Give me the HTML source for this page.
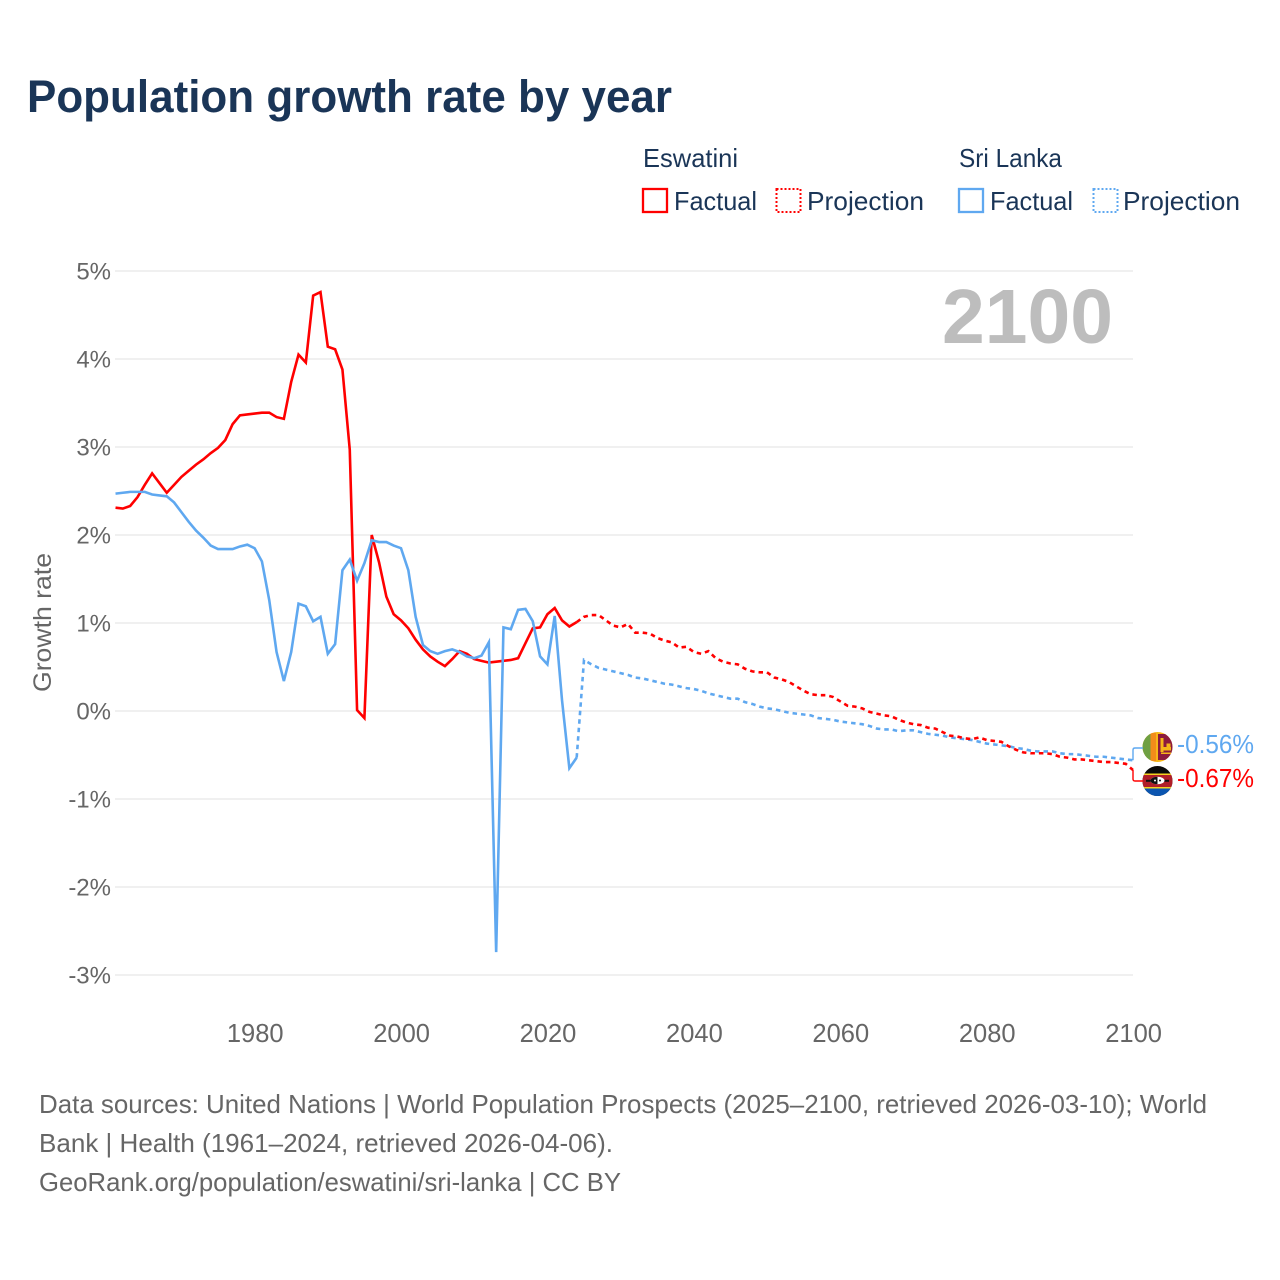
<!DOCTYPE html>
<html lang="en">
<head>
<meta charset="utf-8">
<title>Population growth rate by year</title>
<style>
html,body{margin:0;padding:0;background:#fff;}
svg{display:block;}
text{font-family:"Liberation Sans",sans-serif;}
</style>
</head>
<body>
<svg id="chart" xmlns="http://www.w3.org/2000/svg" width="1280" height="1280" viewBox="0 0 1280 1280">
  <rect x="0" y="0" width="1280" height="1280" fill="#fff"/>
  <text x="27" y="112" font-size="45" font-weight="700" fill="#1a3557" textLength="645" lengthAdjust="spacingAndGlyphs">Population growth rate by year</text>

  <g fill="#1a3557" font-size="26">
    <text x="643" y="167" textLength="95" lengthAdjust="spacingAndGlyphs">Eswatini</text>
    <text x="959" y="167" textLength="103" lengthAdjust="spacingAndGlyphs">Sri Lanka</text>
    <g>
      <rect x="643" y="189" width="24" height="23" fill="none" stroke="#ff0000" stroke-width="2.3"/>
      <text x="674" y="210" textLength="83" lengthAdjust="spacingAndGlyphs">Factual</text>
    </g>
    <g>
      <rect x="776.5" y="189" width="24" height="23" fill="none" stroke="#ff0000" stroke-width="2" stroke-dasharray="2 2"/>
      <text x="807" y="210" textLength="117" lengthAdjust="spacingAndGlyphs">Projection</text>
    </g>
    <g>
      <rect x="959" y="189" width="24" height="23" fill="none" stroke="#5fa8f0" stroke-width="2.3"/>
      <text x="990" y="210" textLength="83" lengthAdjust="spacingAndGlyphs">Factual</text>
    </g>
    <g>
      <rect x="1093.5" y="189" width="24" height="23" fill="none" stroke="#5fa8f0" stroke-width="2" stroke-dasharray="2 2"/>
      <text x="1123" y="210" textLength="117" lengthAdjust="spacingAndGlyphs">Projection</text>
    </g>
  </g>

  <g id="grid"></g>
  <g id="yticks"></g>
  <g id="xticks"></g>
  <text transform="translate(51,622.5) rotate(-90)" text-anchor="middle" font-size="25" fill="#666" textLength="139" lengthAdjust="spacingAndGlyphs">Growth rate</text>
  <text id="yearLabel" x="1113" y="343" text-anchor="end" font-size="77" font-weight="700" fill="#bdbdbd" textLength="171" lengthAdjust="spacingAndGlyphs"></text>

  <g id="series"></g>

  <defs>
    <clipPath id="clipLk"><circle cx="1157.5" cy="747" r="15"/></clipPath>
    <clipPath id="clipSz"><circle cx="1157.5" cy="781" r="15"/></clipPath>
  </defs>
  <g clip-path="url(#clipLk)">
    <rect x="1142" y="731" width="31" height="32" fill="#f7b718"/>
    <rect x="1142" y="733" width="8.5" height="28" fill="#6fa043"/>
    <rect x="1150.5" y="733" width="5.5" height="28" fill="#f28c1a"/>
    <rect x="1158" y="734" width="15" height="26" fill="#8d1b3d"/>
    <rect x="1160.5" y="738" width="3" height="14" fill="#f7b718"/>
    <rect x="1161" y="747" width="10" height="3.5" fill="#f7b718"/>
    <rect x="1166.5" y="743.5" width="4" height="5" fill="#f7b718"/>
    <rect x="1161" y="752.5" width="10" height="1.5" fill="#f7b718"/>
  </g>
  <g clip-path="url(#clipSz)">
    <rect x="1142" y="765" width="31" height="32" fill="#0a0a0a"/>
    <rect x="1142" y="773.5" width="31" height="1.5" fill="#f5d020"/>
    <rect x="1142" y="775" width="31" height="12" fill="#b01e28"/>
    <rect x="1142" y="787" width="31" height="1.5" fill="#f5d020"/>
    <rect x="1142" y="788.5" width="31" height="9" fill="#0b55b0"/>
    <rect x="1146" y="779.8" width="23" height="2" fill="#111"/>
    <ellipse cx="1157.5" cy="780.5" rx="7" ry="3.8" fill="#fff"/>
    <path d="M1157.5 776.7 A7 3.8 0 0 0 1157.5 784.3 Z" fill="#111"/>
    <circle cx="1155" cy="780.5" r="1" fill="#fff"/>
    <circle cx="1160" cy="780.5" r="1" fill="#111"/>
  </g>

  <g font-size="26" fill="#666">
    <text x="39" y="1113" textLength="1168" lengthAdjust="spacingAndGlyphs">Data sources: United Nations | World Population Prospects (2025–2100, retrieved 2026-03-10); World</text>
    <text x="39" y="1152" textLength="574" lengthAdjust="spacingAndGlyphs">Bank | Health (1961–2024, retrieved 2026-04-06).</text>
    <text x="39" y="1191" textLength="582" lengthAdjust="spacingAndGlyphs">GeoRank.org/population/eswatini/sri-lanka | CC BY</text>
  </g>
</svg>
<script>
const factualStartYear = 1961;
const projectionStartYear = 2024;
const xTickYears = [1980, 2000, 2020, 2040, 2060, 2080, 2100];
const yTickValues = [5, 4, 3, 2, 1, 0, -1, -2, -3];
const currentYear = "2100";

const eswatiniFactual = [2.31,2.30,2.33,2.43,2.57,2.70,2.59,2.48,2.57,2.66,2.73,2.80,2.86,2.93,2.99,3.08,3.26,3.36,3.37,3.38,3.39,3.39,3.34,3.32,3.74,4.05,3.96,4.72,4.76,4.14,4.11,3.88,2.97,0.01,-0.08,2.00,1.69,1.30,1.10,1.03,0.94,0.81,0.70,0.62,0.56,0.51,0.59,0.68,0.65,0.59,0.57,0.55,0.56,0.57,0.58,0.60,0.77,0.94,0.95,1.10,1.17,1.03,0.96,1.01];
const eswatiniProjection = [1.01,1.07,1.09,1.09,1.03,0.97,0.95,0.99,0.89,0.89,0.88,0.83,0.80,0.78,0.72,0.73,0.67,0.65,0.68,0.60,0.56,0.54,0.53,0.48,0.45,0.44,0.44,0.38,0.36,0.33,0.28,0.23,0.19,0.18,0.18,0.16,0.11,0.06,0.05,0.03,-0.01,-0.03,-0.05,-0.06,-0.10,-0.13,-0.15,-0.16,-0.19,-0.20,-0.24,-0.28,-0.29,-0.31,-0.32,-0.30,-0.33,-0.34,-0.35,-0.40,-0.44,-0.47,-0.48,-0.48,-0.48,-0.49,-0.52,-0.53,-0.55,-0.55,-0.56,-0.57,-0.58,-0.58,-0.59,-0.60,-0.67];
const sriLankaFactual = [2.47,2.48,2.49,2.49,2.49,2.46,2.45,2.44,2.37,2.26,2.15,2.05,1.97,1.88,1.84,1.84,1.84,1.87,1.89,1.85,1.70,1.26,0.67,0.34,0.67,1.22,1.19,1.02,1.07,0.65,0.76,1.60,1.72,1.48,1.68,1.94,1.92,1.92,1.88,1.85,1.60,1.07,0.75,0.68,0.65,0.68,0.70,0.67,0.62,0.60,0.63,0.78,-2.74,0.95,0.93,1.15,1.16,1.02,0.62,0.53,1.08,0.12,-0.65,-0.53];
const sriLankaProjection = [-0.53,0.58,0.53,0.49,0.47,0.45,0.43,0.41,0.38,0.37,0.35,0.33,0.31,0.30,0.28,0.26,0.25,0.23,0.20,0.18,0.16,0.14,0.14,0.10,0.08,0.05,0.03,0.02,0.00,-0.02,-0.03,-0.04,-0.05,-0.08,-0.09,-0.10,-0.12,-0.13,-0.14,-0.15,-0.17,-0.20,-0.21,-0.21,-0.23,-0.22,-0.22,-0.24,-0.26,-0.27,-0.28,-0.30,-0.31,-0.32,-0.33,-0.35,-0.37,-0.38,-0.39,-0.40,-0.42,-0.43,-0.45,-0.46,-0.46,-0.46,-0.48,-0.49,-0.49,-0.50,-0.51,-0.52,-0.52,-0.53,-0.54,-0.55,-0.56];

const NS = 'http://www.w3.org/2000/svg';
const RED = '#ff0000';
const BLUE = '#5fa8f0';
const GREY = '#666';

function xScale(year) { return 254.6 + (year - 1980) * (1133 - 254.6) / 120; }
function yScale(value) { return 711 - value * 88; }
function pctLabel(v) { return v + '%'; }
function linePath(startYear, values) {
  let d = '';
  for (let i = 0; i < values.length; i++) {
    d += (i ? 'L' : 'M') + xScale(startYear + i).toFixed(2) + ' ' + yScale(values[i]).toFixed(2);
  }
  return d;
}

const grid = document.getElementById('grid');
const yticks = document.getElementById('yticks');
const xticks = document.getElementById('xticks');
const series = document.getElementById('series');
const chart = document.getElementById('chart');

document.getElementById('yearLabel').textContent = currentYear;

yTickValues.forEach(function (v) {
  const line = document.createElementNS(NS, 'line');
  
  
  line.setAttribute('x1', 115);
  line.setAttribute('x2', 1133);
  line.setAttribute('y1', yScale(v));
  line.setAttribute('y2', yScale(v));
  line.setAttribute('stroke', '#ebebeb');
  line.setAttribute('stroke-width', '1.4');
  grid.appendChild(line);

  const label = document.createElementNS(NS, 'text');
  
  
  label.setAttribute('x', 111);
  label.setAttribute('y', yScale(v) + 8.5);
  label.setAttribute('text-anchor', 'end');
  label.setAttribute('font-size', '24');
  label.setAttribute('fill', GREY);
  label.textContent = pctLabel(v);
  yticks.appendChild(label);
});

xTickYears.forEach(function (yr) {
  const label = document.createElementNS(NS, 'text');
  
  
  label.setAttribute('x', xScale(yr) + 0.6);
  label.setAttribute('y', 1042);
  label.setAttribute('text-anchor', 'middle');
  label.setAttribute('font-size', '25.5');
  label.setAttribute('fill', GREY);
  label.textContent = String(yr);
  xticks.appendChild(label);
});

function addSeries(name, startYear, values, color, dash) {
  const p = document.createElementNS(NS, 'path');
  
  
  p.setAttribute('d', linePath(startYear, values));
  p.setAttribute('fill', 'none');
  p.setAttribute('stroke', color);
  p.setAttribute('stroke-width', '2.6');
  p.setAttribute('stroke-linejoin', 'miter');
  p.setAttribute('stroke-miterlimit', '4');
  if (dash) p.setAttribute('stroke-dasharray', dash);
  series.appendChild(p);
}
addSeries('sri-lanka-projection-line', projectionStartYear, sriLankaProjection, BLUE, '4.5 4');
addSeries('eswatini-projection-line', projectionStartYear, eswatiniProjection, RED, '4.5 4');
addSeries('eswatini-factual-line', factualStartYear, eswatiniFactual, RED, null);
addSeries('sri-lanka-factual-line', factualStartYear, sriLankaFactual, BLUE, null);

function addEnd(name, values, color, labelY, flagY) {
  const last = values[values.length - 1];
  const x0 = xScale(2100);
  const y0 = yScale(last);
  const dir = flagY < y0 ? -1 : 1;
  const leader = document.createElementNS(NS, 'path');
  
  
  leader.setAttribute('d', 'M' + x0 + ' ' + y0 + 'V' + (flagY - dir * 2) + 'Q' + x0 + ' ' + flagY + ' ' + (x0 + 2) + ' ' + flagY + 'H1143');
  leader.setAttribute('fill', 'none');
  leader.setAttribute('stroke', color);
  leader.setAttribute('stroke-width', '1.4');
  chart.appendChild(leader);

  const label = document.createElementNS(NS, 'text');
  
  
  label.setAttribute('x', 1177);
  label.setAttribute('y', labelY);
  label.setAttribute('font-size', '25.5');
  label.setAttribute('fill', color);
  label.setAttribute('textLength', '77');
  label.setAttribute('lengthAdjust', 'spacingAndGlyphs');
  label.textContent = last.toFixed(2) + '%';
  chart.appendChild(label);
}
addEnd('sri-lanka', sriLankaProjection, BLUE, 753, 748);
addEnd('eswatini', eswatiniProjection, RED, 787, 781);
</script>
</body>
</html>
